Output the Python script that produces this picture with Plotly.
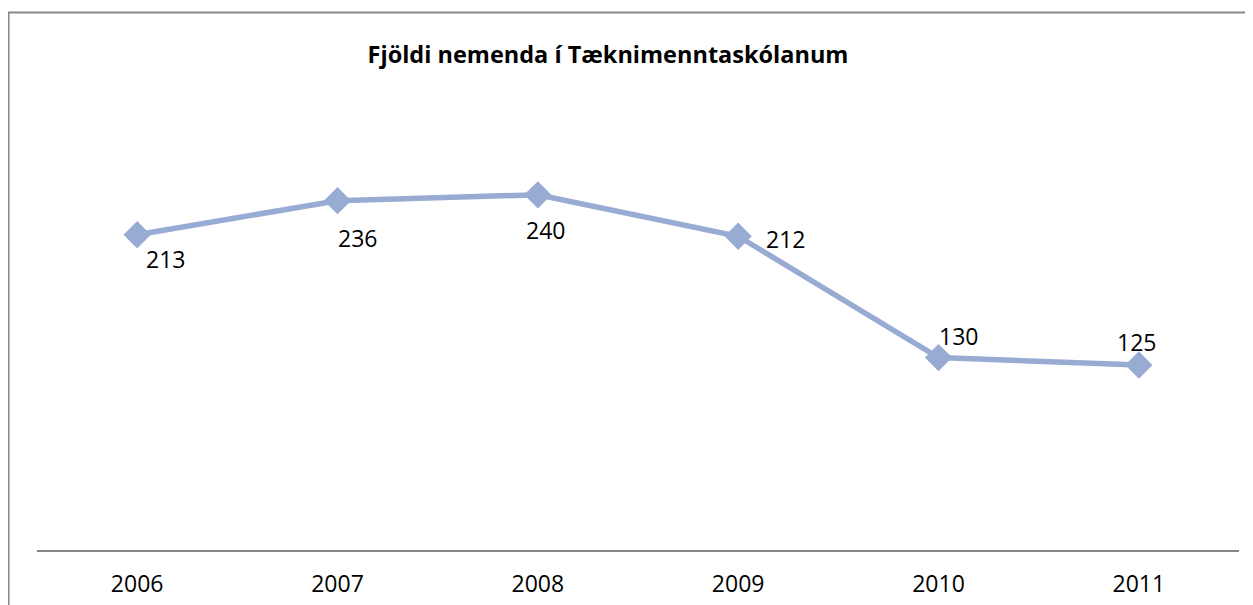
import plotly.graph_objects as go

years = ["2006", "2007", "2008", "2009", "2010", "2011"]
students = [213, 236, 240, 212, 130, 125]
label_dx = [28, 20, 8, 47, 20, -2]
label_dy = [-24, -37, -35, -3, 22, 23]

# page body has an 8px margin, so figure coordinates = screen - 8
OFF = 8
W, H = 1253, 605
L, R, T, B = 37 - OFF, 22, 106 - OFF, 63
pw, ph = W - L - R, H - T - B

fig = go.Figure()
fig.add_trace(go.Scatter(
    x=years, y=students, mode="lines+markers",
    line=dict(color="#98ACD3", width=5.5),
    marker=dict(symbol="diamond", size=21, color="#98ACD3"),
    hoverinfo="x+y", showlegend=False,
))
for i, (yv, dx, dy) in enumerate(zip(students, label_dx, label_dy)):
    fig.add_annotation(x=i, y=yv, xref="x", yref="y", text=str(yv),
                       showarrow=False, xshift=dx, yshift=dy,
                       font=dict(family="Open Sans", size=23, color="#000000"))

fig.add_shape(type="rect", xref="paper", yref="paper",
              x0=(8.5 - OFF - L) / pw, x1=(W + 10 - L) / pw,
              y0=-(H + 10 - (T + ph)) / ph, y1=(T + ph - (12.5 - OFF)) / ph,
              line=dict(color="#888888", width=2), fillcolor="rgba(0,0,0,0)")

fig.update_layout(
    width=W, height=H,
    margin=dict(l=L, r=R, t=T, b=B),
    paper_bgcolor="white", plot_bgcolor="white",
    title=dict(text="<b>Fjöldi nemenda í Tæknimenntaskólanum</b>",
               x=(608 - OFF) / W, xanchor="center", y=1 - (55 - OFF) / H, yanchor="middle",
               font=dict(family="Open Sans", size=23.5, color="#000000")),
    xaxis=dict(type="category", range=[-0.5, 5.5], showgrid=False,
               showline=True, linecolor="#878787", linewidth=2,
               ticks="", zeroline=False, ticklabelstandoff=12,
               tickfont=dict(family="Open Sans", size=23, color="#000000")),
    yaxis=dict(range=[0, 300], visible=False, showgrid=False, zeroline=False),
)
fig.write_html("out.html")
